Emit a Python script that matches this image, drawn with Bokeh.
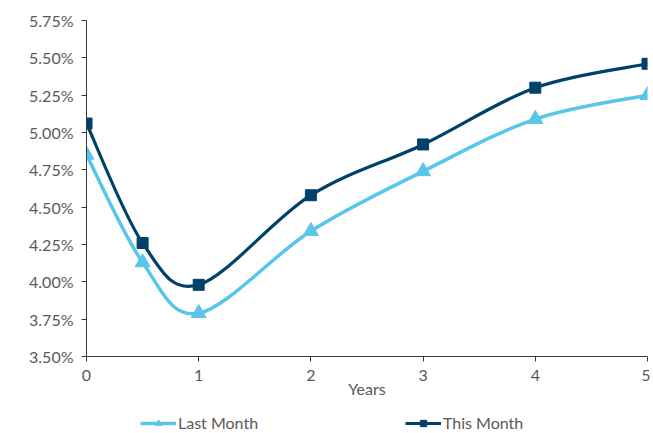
from bokeh.plotting import figure
from bokeh.layouts import column
from bokeh.models import (ColumnDataSource, Legend, LegendItem, PrintfTickFormatter,
                          FixedTicker, Range1d)
from bokeh.embed import file_html
from bokeh.resources import INLINE

years = [0, 0.5, 1, 2, 3, 4, 5]
last_month = [4.85, 4.13, 3.79, 4.34, 4.74, 5.09, 5.25]
this_month = [5.06, 4.26, 3.98, 4.58, 4.92, 5.30, 5.46]
y_ticks = [3.50, 3.75, 4.00, 4.25, 4.50, 4.75, 5.00, 5.25, 5.50, 5.75]
x_ticks = [0, 1, 2, 3, 4, 5]

LIGHT = "#58C6E8"
DARK = "#00416A"
FONT = "Lato"
GREY = "#595959"


def bezier_source(xs, ys):
    n = len(xs)
    d = dict(x0=[], y0=[], x1=[], y1=[], cx0=[], cy0=[], cx1=[], cy1=[])
    for i in range(n - 1):
        xp, yp = (xs[i - 1], ys[i - 1]) if i > 0 else (xs[i], ys[i])
        xn2, yn2 = (xs[i + 2], ys[i + 2]) if i + 2 < n else (xs[i + 1], ys[i + 1])
        d["x0"].append(xs[i]); d["y0"].append(ys[i])
        d["x1"].append(xs[i + 1]); d["y1"].append(ys[i + 1])
        d["cx0"].append(xs[i] + (xs[i + 1] - xp) / 6)
        d["cy0"].append(ys[i] + (ys[i + 1] - yp) / 6)
        d["cx1"].append(xs[i + 1] - (xn2 - xs[i]) / 6)
        d["cy1"].append(ys[i + 1] - (yn2 - ys[i]) / 6)
    return ColumnDataSource(d)


p = figure(width=650, height=400, output_backend="svg", toolbar_location=None,
           x_range=Range1d(0, 5), y_range=Range1d(3.5, 5.75),
           min_border_left=86, min_border_right=3, min_border_top=20, min_border_bottom=43)
p.outline_line_color = None
p.xgrid.grid_line_color = None
p.ygrid.grid_line_color = None

for ax in (p.xaxis[0], p.yaxis[0]):
    ax.major_label_text_font = FONT
    ax.major_label_text_font_size = "16px"
    ax.major_label_text_color = GREY
    ax.axis_line_color = "#3a3a3a"
    ax.major_tick_line_color = "#3a3a3a"
    ax.minor_tick_line_color = None
    ax.major_tick_in = 0
    ax.major_tick_out = 5

p.yaxis.ticker = FixedTicker(ticks=y_ticks)
p.yaxis.formatter = PrintfTickFormatter(format="%.2f%%")
p.yaxis.major_label_standoff = 8
p.xaxis.ticker = FixedTicker(ticks=x_ticks)
p.xaxis.major_label_standoff = 8
p.xaxis.axis_label = "Years"
p.xaxis.axis_label_text_font = FONT
p.xaxis.axis_label_text_font_size = "16px"
p.xaxis.axis_label_text_font_style = "normal"
p.xaxis.axis_label_text_color = GREY
p.xaxis.axis_label_standoff = -5

p.bezier(x0="x0", y0="y0", x1="x1", y1="y1", cx0="cx0", cy0="cy0", cx1="cx1", cy1="cy1",
         source=bezier_source(years, last_month), line_color=LIGHT, line_width=3.5)
p.bezier(x0="x0", y0="y0", x1="x1", y1="y1", cx0="cx0", cy0="cy0", cx1="cx1", cy1="cy1",
         source=bezier_source(years, this_month), line_color=DARK, line_width=3.2)

p.scatter(years, last_month, marker="triangle", size=15, fill_color=LIGHT, line_color=LIGHT)
p.scatter(years, this_month, marker="square", size=11, fill_color=DARK, line_color=DARK)

# legend strip (series drawn outside its visible range, only the legend shows)
lg = figure(width=650, height=32, output_backend="svg", toolbar_location=None,
            x_range=Range1d(0, 5), y_range=Range1d(0, 1),
            x_axis_location=None, y_axis_location=None, min_border=0)
lg.outline_line_color = None
lg.xgrid.grid_line_color = None
lg.ygrid.grid_line_color = None
l1 = lg.line(years, last_month, line_color=LIGHT, line_width=3.5)
s1 = lg.scatter(years, last_month, marker="triangle", size=13, fill_color=LIGHT, line_color=LIGHT)
l2 = lg.line(years, this_month, line_color=DARK, line_width=3.2)
s2 = lg.scatter(years, this_month, marker="square", size=10, fill_color=DARK, line_color=DARK)

legend = Legend(items=[LegendItem(label="Last Month", renderers=[l1, s1]),
                       LegendItem(label="This Month", renderers=[l2, s2])],
                orientation="horizontal", location=(54, 0),
                label_text_font=FONT, label_text_font_size="16px", label_text_color=GREY,
                glyph_width=36, glyph_height=16, label_height=16, label_width=95,
                label_standoff=2, spacing=132, padding=0, margin=0,
                border_line_color=None, background_fill_alpha=0)
lg.add_layout(legend, "center")

open("out.html", "w").write(file_html(column(p, lg, spacing=0), INLINE))
